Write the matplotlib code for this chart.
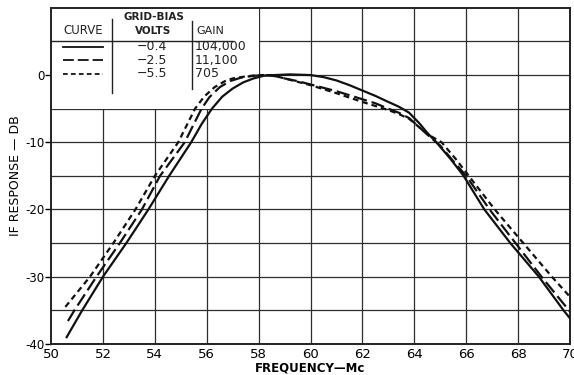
import numpy as np
import matplotlib
matplotlib.use("Agg")
import matplotlib.pyplot as plt
from matplotlib.patches import Rectangle

# IF response curves (frequency in Mc, response in dB)
freq_a = [50.6, 51.2, 52.0, 52.9, 53.75, 54.55, 55.4, 55.8, 56.2, 56.6, 57.0,
          57.4, 57.8, 58.2, 58.6, 59.2, 60.0, 60.5, 61.0, 61.5, 62.0, 62.5, 63.0,
          63.4, 63.8, 64.2, 64.5, 64.85, 65.4, 65.9, 66.7, 67.7, 68.8, 69.75, 70.0]
resp_a = [-39.0, -35.0, -30.0, -25.0, -20.0, -15.0, -10.0, -7.3, -5.0, -3.2, -2.0,
          -1.1, -0.5, -0.1, 0.0, 0.1, 0.0, -0.3, -0.8, -1.5, -2.3, -3.1, -4.0,
          -4.7, -5.6, -7.2, -8.6, -10.0, -12.5, -15.0, -20.0, -25.0, -30.0, -35.0, -36.2]

freq_b = [50.65, 50.9, 51.75, 52.65, 53.5, 54.2, 55.15, 55.5, 55.8, 56.1, 56.5,
          56.9, 57.3, 57.8, 58.3, 58.7, 59.0, 59.5, 60.0, 61.0, 62.0, 62.5, 63.0,
          63.4, 63.8, 64.2, 64.6, 65.0, 65.5, 66.0, 66.9, 67.9, 68.9, 70.0]
resp_b = [-36.6, -35.0, -30.0, -25.0, -20.0, -15.0, -10.0, -7.3, -5.0, -3.3, -1.8,
          -0.9, -0.4, -0.1, 0.0, -0.2, -0.5, -0.9, -1.4, -2.4, -3.6, -4.2, -5.0,
          -5.6, -6.4, -7.8, -9.2, -10.5, -12.8, -15.0, -20.0, -25.0, -30.0, -35.2]

freq_c = [50.55, 51.5, 52.4, 53.25, 54.0, 54.9, 55.25, 55.55, 55.9, 56.3, 56.7,
          57.0, 57.5, 58.0, 58.5, 59.0, 59.5, 60.0, 61.0, 62.0, 62.5, 63.0, 63.4,
          63.8, 64.2, 64.6, 65.05, 65.6, 66.1, 67.1, 68.2, 69.3, 70.0]
resp_c = [-34.5, -30.0, -25.0, -20.0, -15.0, -10.0, -7.3, -5.0, -3.2, -1.8, -0.9,
          -0.5, -0.2, 0.0, 0.0, -0.5, -1.0, -1.5, -2.7, -4.0, -4.6, -5.2, -5.8,
          -6.5, -7.8, -9.0, -10.0, -12.5, -15.0, -20.0, -25.0, -30.0, -33.0]

bias_volts = ["\u22120.4", "\u22122.5", "\u22125.5"]
gains = ["104,000", "11,100", "705"]
xticks = np.arange(50, 71, 2)
yticks = [0, -10, -20, -30, -40]

plt.rcParams["font.family"] = "DejaVu Sans"
plt.rcParams["axes.unicode_minus"] = False

fig = plt.figure(figsize=(5.74, 3.75), dpi=100)
ax = fig.add_axes([0.089, 0.083, 0.904, 0.896])
ax.set_xlim(50, 70)
ax.set_ylim(-40, 10)

# hand-drawn grid: every 2 Mc and every 5 dB
for x in xticks[1:-1]:
    ax.axvline(x, color="#2e2e2e", lw=0.9, zorder=1)
for y in np.arange(-35, 10, 5):
    ax.axhline(y, color="#2e2e2e", lw=0.9, zorder=1)

# legend table sits on a blank patch of the grid
ax.add_patch(Rectangle((50, -5), 8, 15, facecolor="white", edgecolor="none", zorder=2))

styles = [dict(ls="-"), dict(ls=(0, (6, 2.2))), dict(ls=(0, (2.6, 1.8)))]
for fx, ry, st in zip([freq_a, freq_b, freq_c], [resp_a, resp_b, resp_c], styles):
    ax.plot(fx, ry, color="#111111", lw=1.6, zorder=4, **st)

# table
tk = dict(color="#222222", zorder=5)
ax.plot([50, 57.0], [5.1, 5.1], color="#222222", lw=1.0, zorder=5)
ax.plot([52.35, 52.35], [-2.7, 8.3], color="#222222", lw=1.0, zorder=5)
ax.plot([55.45, 55.45], [-2.1, 8.0], color="#222222", lw=1.0, zorder=5)
ax.text(51.25, 6.6, "CURVE", ha="center", va="center", fontsize=8.5, **tk)
ax.text(53.95, 8.7, "GRID-BIAS", ha="center", va="center", fontsize=7.5, fontweight="bold", **tk)
ax.text(53.95, 6.6, "VOLTS", ha="center", va="center", fontsize=7.5, fontweight="bold", **tk)
ax.text(55.6, 6.6, "GAIN", ha="left", va="center", fontsize=8, **tk)
row_y = [4.2, 2.2, 0.2]
for y, st, v, g in zip(row_y, styles, bias_volts, gains):
    ax.plot([50.45, 52.0], [y, y], color="#111111", lw=1.3, zorder=5, **st)
    ax.text(53.9, y, v, ha="center", va="center", fontsize=9, **tk)
    ax.text(55.55, y, g, ha="left", va="center", fontsize=9, **tk)

for s in ax.spines.values():
    s.set_linewidth(1.4)
    s.set_color("#222222")

ax.set_xticks(xticks)
ax.set_yticks(yticks)
ax.set_yticklabels([str(v) for v in yticks])
ax.tick_params(axis="x", length=0, pad=3, labelsize=9.5)
ax.tick_params(axis="y", length=4, width=1, pad=1, labelsize=8.5)
ax.set_xlabel("FREQUENCY\u2014Mc", fontsize=8.5, fontweight="bold", labelpad=0)
ax.set_ylabel("IF RESPONSE \u2014 DB", fontsize=9, labelpad=2)

fig.savefig("out.png", dpi=100)
